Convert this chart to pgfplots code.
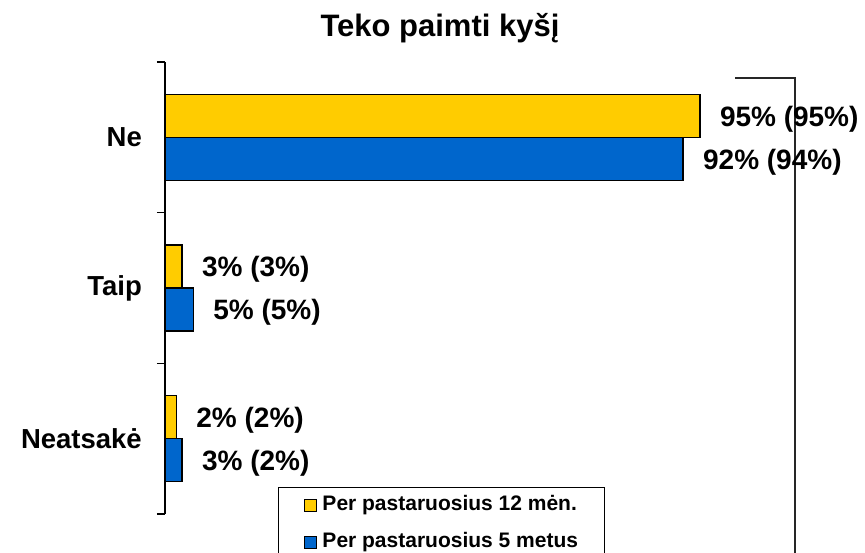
\documentclass[border=0pt]{standalone}
\usepackage{fontspec}
\setmainfont{Liberation Sans}
\usepackage{pgfplots}
\pgfplotsset{compat=1.18}
\definecolor{ygold}{HTML}{FFCC00}
\definecolor{bblue}{HTML}{0066CC}
\pgfplotsset{sqlegend/.style={legend image code/.code={\draw[##1, line width=1pt] (0pt,-6pt) rectangle (12pt,6pt);}}}
\begin{document}
\begin{tikzpicture}[x=1pt,y=1pt]
\useasboundingbox (0,0) rectangle (865,-552);
\draw[line width=1.4pt, black!85] (735,-78) -- (795,-78) -- (795,-560);
\node[font=\bfseries\fontsize{31}{33}\selectfont, anchor=base] at (440,-36) {Teko paimti kyšį};
\begin{axis}[
  at={(165pt,-514pt)}, anchor=south west,
  scale only axis, width=563pt, height=452pt,
  xbar, bar width=43pt,
  xmin=0, xmax=100, ymin=-0.5, ymax=2.5,
  clip=false,
  axis x line=none, axis y line*=left,
  y axis line style={line width=1.5pt, black},
  ytick={0,1,2}, yticklabels={Neatsakė,Taip,Ne},
  major tick length=0pt,
  extra y ticks={-0.5,0.5,1.5,2.5}, extra y tick labels={},
  extra y tick style={major tick length=8pt, tick align=outside, tick style={line width=1.5pt, black}},
  yticklabel style={font=\bfseries\fontsize{27.5}{29}\selectfont, inner sep=0pt, xshift=-23pt},
  nodes near coords style={font=\bfseries\fontsize{28}{30}\selectfont, anchor=west, inner sep=0pt, xshift=19.5pt, yshift=-3pt, black},
  legend style={at={(0.2007,0.0597)}, anchor=north west, draw=black, line width=1pt,
    inner xsep=26pt, inner ysep=8pt, row sep=18pt, column sep=5pt,
    font=\bfseries\fontsize{21}{24}\selectfont,
    nodes={inner sep=0pt, text height=15pt, text depth=4pt}},
  legend cell align=left,
]
\addplot[fill=ygold, draw=black, line width=1.3pt, bar shift=21.5pt,
  nodes near coords, point meta=explicit symbolic, sqlegend]
  coordinates {(2,0) [2\% (2\%)] (3,1) [3\% (3\%)] (95,2) [95\% (95\%)]};
\addlegendentry{Per pastaruosius 12 mėn.}
\addplot[fill=bblue, draw=black, line width=1.3pt, bar shift=-21.5pt,
  nodes near coords, point meta=explicit symbolic, sqlegend]
  coordinates {(3,0) [3\% (2\%)] (5,1) [5\% (5\%)] (92,2) [92\% (94\%)]};
\addlegendentry{Per pastaruosius 5 metus}
\end{axis}
\end{tikzpicture}
\end{document}
